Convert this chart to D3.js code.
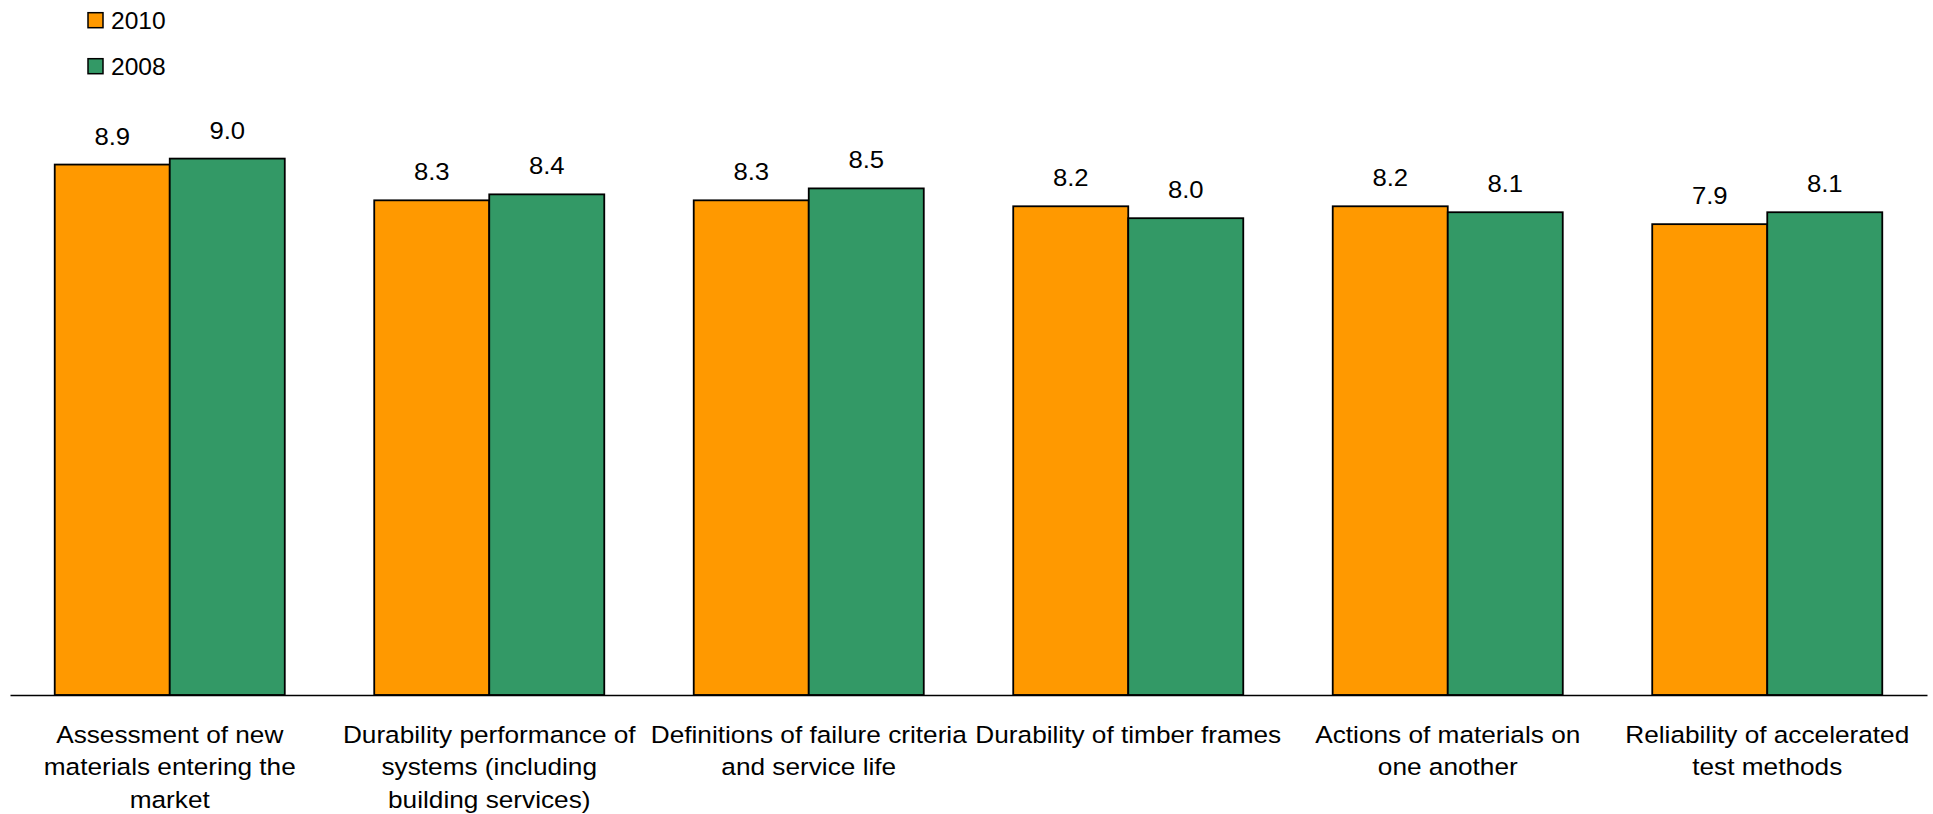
<!DOCTYPE html>
<html>
<head>
<meta charset="utf-8">
<script src="https://cdn.jsdelivr.net/npm/d3@7"></script>
<style>
  html, body { margin: 0; padding: 0; background: #ffffff; }
  svg { display: block; font-family: "Liberation Sans", Arial, sans-serif; }
</style>
</head>
<body>
<svg id="chart" width="1933" height="814"></svg>
<script>
// Survey scores per research topic, two survey years
const categories = [
  "Assessment of new\nmaterials entering the\nmarket",
  "Durability performance of\nsystems (including\nbuilding services)",
  "Definitions of failure criteria\nand service life",
  "Durability of timber frames",
  "Actions of materials on\none another",
  "Reliability of accelerated\ntest methods"
];
const seriesNames = ["2010", "2008"];
const values2010 = [8.9, 8.3, 8.3, 8.2, 8.2, 7.9];
const values2008 = [9.0, 8.4, 8.5, 8.0, 8.1, 8.1];
const colors = ["#FF9900", "#339966"];

const seriesValues = [values2010, values2008];

const svg = d3.select("#chart");

const plot = { left: 10, right: 1927, top: 99, bottom: 695 };

const x0 = d3.scaleBand()
  .domain(categories)
  .range([plot.left, plot.right])
  .paddingInner(0.28)
  .paddingOuter(0.14);

const x1 = d3.scaleBand()
  .domain(seriesNames)
  .range([0, x0.bandwidth()])
  .padding(0);

const y = d3.scaleLinear()
  .domain([0, 10])
  .range([plot.bottom, plot.top]);

// text is drawn slightly wide
const stretch = 1.07;

// Bars
const groups = svg.append("g")
  .selectAll("g")
  .data(categories)
  .join("g")
  .attr("transform", d => `translate(${x0(d)},0)`);

groups.selectAll("rect")
  .data((d, i) => seriesNames.map((s, k) => ({ s, v: seriesValues[k][i], k })))
  .join("rect")
  .attr("x", d => x1(d.s))
  .attr("y", d => y(d.v))
  .attr("width", x1.bandwidth())
  .attr("height", d => y(0) - y(d.v))
  .attr("fill", d => colors[d.k])
  .attr("stroke", "#000")
  .attr("stroke-width", 1.8);

// Value labels above bars
groups.selectAll("g.val")
  .data((d, i) => seriesNames.map((s, k) => ({ s, v: seriesValues[k][i], k })))
  .join("g")
  .attr("class", "val")
  .attr("transform", d => `translate(${x1(d.s) + x1.bandwidth() / 2},${y(d.v) - 20}) scale(${stretch},1)`)
  .append("text")
  .attr("text-anchor", "middle")
  .attr("font-size", 24)
  .attr("fill", "#000")
  .text(d => d3.format(".1f")(d.v));

// Category axis
const xAxis = svg.append("g")
  .attr("transform", `translate(0,${plot.bottom})`)
  .call(d3.axisBottom(x0).tickSize(0).tickFormat(""));
xAxis.select(".domain")
  .attr("stroke", "#000")
  .attr("stroke-width", 1.6);

const catLabels = svg.append("g")
  .selectAll("g")
  .data(categories)
  .join("g")
  .attr("transform", d => `translate(${x0(d) + x0.bandwidth() / 2},${plot.bottom + 48}) scale(${stretch},1)`);

catLabels.append("text")
  .attr("text-anchor", "middle")
  .attr("font-size", 24.5)
  .attr("fill", "#000")
  .selectAll("tspan")
  .data(d => d.split("\n"))
  .join("tspan")
  .attr("x", 0)
  .attr("y", (d, i) => i * 32.3)
  .text(d => d);

// Legend
const legend = svg.append("g")
  .selectAll("g")
  .data(seriesNames)
  .join("g")
  .attr("transform", (d, i) => `translate(88,${12.7 + i * 46})`);

legend.append("rect")
  .attr("width", 15)
  .attr("height", 15)
  .attr("fill", (d, i) => colors[i])
  .attr("stroke", "#000")
  .attr("stroke-width", 1.5);

legend.append("g")
  .attr("transform", `translate(23,16) scale(${stretch},1)`)
  .append("text")
  .attr("font-size", 23)
  .attr("fill", "#000")
  .text(d => d);
</script>
</body>
</html>
